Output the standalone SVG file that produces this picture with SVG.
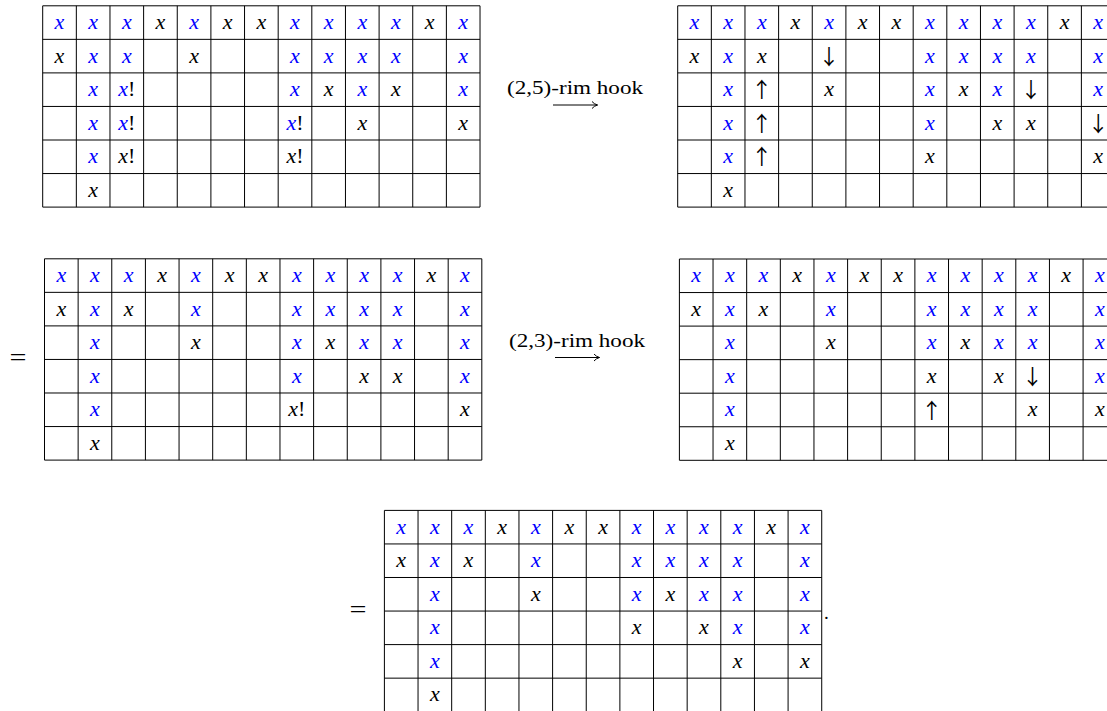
<svg xmlns="http://www.w3.org/2000/svg" xmlns:xlink="http://www.w3.org/1999/xlink" width="1107" height="711" viewBox="0 0 1107 711">
<style>
.grid{fill:none;stroke:#000;stroke-width:1}
text{font-family:"Liberation Serif","Times New Roman",serif}
.m{font-style:italic;font-size:22px;text-anchor:middle}
.b{fill:#0000ff}
.k{fill:#000}
.e{font-style:normal;fill:#000}
.a{font-family:"Noto Sans CJK SC","DejaVu Sans",sans-serif;font-size:21px;text-anchor:middle;fill:#000}
.lbl{font-size:19px;fill:#000}
.eq{font-size:24px;fill:#000;text-anchor:middle}
.conn{fill:none;stroke:#000;stroke-width:1}
</style>
<defs>
<path id="gl" class="grid" d="M0,0H437.32M0,33.55H437.32M0,67.1H437.32M0,100.65H437.32M0,134.2H437.32M0,167.75H437.32M0,201.3H437.32M0,0V201.3M33.64,0V201.3M67.28,0V201.3M100.92,0V201.3M134.56,0V201.3M168.2,0V201.3M201.84,0V201.3M235.48,0V201.3M269.12,0V201.3M302.76,0V201.3M336.4,0V201.3M370.04,0V201.3M403.68,0V201.3M437.32,0V201.3"/>
<g id="row0">
<text class="m b" x="16.82" y="23.2">x</text><text class="m b" x="50.46" y="23.2">x</text><text class="m b" x="84.1" y="23.2">x</text><text class="m k" x="117.74" y="23.2">x</text><text class="m b" x="151.38" y="23.2">x</text><text class="m k" x="185.02" y="23.2">x</text><text class="m k" x="218.66" y="23.2">x</text><text class="m b" x="252.3" y="23.2">x</text><text class="m b" x="285.94" y="23.2">x</text><text class="m b" x="319.58" y="23.2">x</text><text class="m b" x="353.22" y="23.2">x</text><text class="m k" x="386.86" y="23.2">x</text><text class="m b" x="420.5" y="23.2">x</text>
</g>
<marker id="ah" markerWidth="10" markerHeight="10" refX="7" refY="4" orient="auto" markerUnits="userSpaceOnUse">
<path d="M1.5,0.5 Q3.5,3 7,4 Q3.5,5 1.5,7.5" fill="none" stroke="#000" stroke-width="1"/>
</marker>
</defs>

<g id="grid1" transform="translate(42.7,5.8)">
<use xlink:href="#gl"/>
<use xlink:href="#row0"/>
<text class="m k" x="16.82" y="56.75">x</text><text class="m b" x="50.46" y="56.75">x</text><text class="m b" x="84.1" y="56.75">x</text><text class="m k" x="151.38" y="56.75">x</text><text class="m b" x="252.3" y="56.75">x</text><text class="m b" x="285.94" y="56.75">x</text><text class="m b" x="319.58" y="56.75">x</text><text class="m b" x="353.22" y="56.75">x</text><text class="m b" x="420.5" y="56.75">x</text>
<text class="m b" x="50.46" y="90.3">x</text><text class="m" x="84.1" y="90.3"><tspan class="b">x</tspan><tspan class="e">!</tspan></text><text class="m b" x="252.3" y="90.3">x</text><text class="m k" x="285.94" y="90.3">x</text><text class="m b" x="319.58" y="90.3">x</text><text class="m k" x="353.22" y="90.3">x</text><text class="m b" x="420.5" y="90.3">x</text>
<text class="m b" x="50.46" y="123.85">x</text><text class="m" x="84.1" y="123.85"><tspan class="b">x</tspan><tspan class="e">!</tspan></text><text class="m" x="252.3" y="123.85"><tspan class="b">x</tspan><tspan class="e">!</tspan></text><text class="m k" x="319.58" y="123.85">x</text><text class="m k" x="420.5" y="123.85">x</text>
<text class="m b" x="50.46" y="157.4">x</text><text class="m" x="84.1" y="157.4"><tspan class="k">x</tspan><tspan class="e">!</tspan></text><text class="m" x="252.3" y="157.4"><tspan class="k">x</tspan><tspan class="e">!</tspan></text>
<text class="m k" x="50.46" y="190.95">x</text>
</g>

<g id="grid2" transform="translate(677.7,5.8)">
<use xlink:href="#gl"/>
<use xlink:href="#row0"/>
<text class="m k" x="16.82" y="56.75">x</text><text class="m b" x="50.46" y="56.75">x</text><text class="m k" x="84.1" y="56.75">x</text><text class="a" x="151.38" y="58">↓</text><text class="m b" x="252.3" y="56.75">x</text><text class="m b" x="285.94" y="56.75">x</text><text class="m b" x="319.58" y="56.75">x</text><text class="m b" x="353.22" y="56.75">x</text><text class="m b" x="420.5" y="56.75">x</text>
<text class="m b" x="50.46" y="90.3">x</text><text class="a" x="84.1" y="91.5">↑</text><text class="m k" x="151.38" y="90.3">x</text><text class="m b" x="252.3" y="90.3">x</text><text class="m k" x="285.94" y="90.3">x</text><text class="m b" x="319.58" y="90.3">x</text><text class="a" x="353.22" y="91.5">↓</text><text class="m b" x="420.5" y="90.3">x</text>
<text class="m b" x="50.46" y="123.85">x</text><text class="a" x="84.1" y="125">↑</text><text class="m b" x="252.3" y="123.85">x</text><text class="m k" x="319.58" y="123.85">x</text><text class="m k" x="353.22" y="123.85">x</text><text class="a" x="420.5" y="125">↓</text>
<text class="m b" x="50.46" y="157.4">x</text><text class="a" x="84.1" y="158.6">↑</text><text class="m k" x="252.3" y="157.4">x</text><text class="m k" x="420.5" y="157.4">x</text>
<text class="m k" x="50.46" y="190.95">x</text>
</g>

<g id="grid3" transform="translate(44.5,258.8)">
<use xlink:href="#gl"/>
<use xlink:href="#row0"/>
<text class="m k" x="16.82" y="56.75">x</text><text class="m b" x="50.46" y="56.75">x</text><text class="m k" x="84.1" y="56.75">x</text><text class="m b" x="151.38" y="56.75">x</text><text class="m b" x="252.3" y="56.75">x</text><text class="m b" x="285.94" y="56.75">x</text><text class="m b" x="319.58" y="56.75">x</text><text class="m b" x="353.22" y="56.75">x</text><text class="m b" x="420.5" y="56.75">x</text>
<text class="m b" x="50.46" y="90.3">x</text><text class="m k" x="151.38" y="90.3">x</text><text class="m b" x="252.3" y="90.3">x</text><text class="m k" x="285.94" y="90.3">x</text><text class="m b" x="319.58" y="90.3">x</text><text class="m b" x="353.22" y="90.3">x</text><text class="m b" x="420.5" y="90.3">x</text>
<text class="m b" x="50.46" y="123.85">x</text><text class="m b" x="252.3" y="123.85">x</text><text class="m k" x="319.58" y="123.85">x</text><text class="m k" x="353.22" y="123.85">x</text><text class="m b" x="420.5" y="123.85">x</text>
<text class="m b" x="50.46" y="157.4">x</text><text class="m" x="252.3" y="157.4"><tspan class="k">x</tspan><tspan class="e">!</tspan></text><text class="m k" x="420.5" y="157.4">x</text>
<text class="m k" x="50.46" y="190.95">x</text>
</g>

<g id="grid4" transform="translate(679.4,259)">
<use xlink:href="#gl"/>
<use xlink:href="#row0"/>
<text class="m k" x="16.82" y="56.75">x</text><text class="m b" x="50.46" y="56.75">x</text><text class="m k" x="84.1" y="56.75">x</text><text class="m b" x="151.38" y="56.75">x</text><text class="m b" x="252.3" y="56.75">x</text><text class="m b" x="285.94" y="56.75">x</text><text class="m b" x="319.58" y="56.75">x</text><text class="m b" x="353.22" y="56.75">x</text><text class="m b" x="420.5" y="56.75">x</text>
<text class="m b" x="50.46" y="90.3">x</text><text class="m k" x="151.38" y="90.3">x</text><text class="m b" x="252.3" y="90.3">x</text><text class="m k" x="285.94" y="90.3">x</text><text class="m b" x="319.58" y="90.3">x</text><text class="m b" x="353.22" y="90.3">x</text><text class="m b" x="420.5" y="90.3">x</text>
<text class="m b" x="50.46" y="123.85">x</text><text class="m k" x="252.3" y="123.85">x</text><text class="m k" x="319.58" y="123.85">x</text><text class="a" x="353.22" y="125">↓</text><text class="m b" x="420.5" y="123.85">x</text>
<text class="m b" x="50.46" y="157.4">x</text><text class="a" x="252.3" y="158.6">↑</text><text class="m k" x="353.22" y="157.4">x</text><text class="m k" x="420.5" y="157.4">x</text>
<text class="m k" x="50.46" y="190.95">x</text>
</g>

<g id="grid5" transform="translate(384.4,510.4)">
<use xlink:href="#gl"/>
<use xlink:href="#row0"/>
<text class="m k" x="16.82" y="56.75">x</text><text class="m b" x="50.46" y="56.75">x</text><text class="m k" x="84.1" y="56.75">x</text><text class="m b" x="151.38" y="56.75">x</text><text class="m b" x="252.3" y="56.75">x</text><text class="m b" x="285.94" y="56.75">x</text><text class="m b" x="319.58" y="56.75">x</text><text class="m b" x="353.22" y="56.75">x</text><text class="m b" x="420.5" y="56.75">x</text>
<text class="m b" x="50.46" y="90.3">x</text><text class="m k" x="151.38" y="90.3">x</text><text class="m b" x="252.3" y="90.3">x</text><text class="m k" x="285.94" y="90.3">x</text><text class="m b" x="319.58" y="90.3">x</text><text class="m b" x="353.22" y="90.3">x</text><text class="m b" x="420.5" y="90.3">x</text>
<text class="m b" x="50.46" y="123.85">x</text><text class="m k" x="252.3" y="123.85">x</text><text class="m k" x="319.58" y="123.85">x</text><text class="m b" x="353.22" y="123.85">x</text><text class="m b" x="420.5" y="123.85">x</text>
<text class="m b" x="50.46" y="157.4">x</text><text class="m k" x="353.22" y="157.4">x</text><text class="m k" x="420.5" y="157.4">x</text>
<text class="m k" x="50.46" y="190.95">x</text>
</g>

<g id="labels">
<text class="lbl" x="507" y="94" textLength="136" lengthAdjust="spacingAndGlyphs">(2,5)-rim hook</text>
<text class="lbl" x="509" y="347" textLength="136" lengthAdjust="spacingAndGlyphs">(2,3)-rim hook</text>
<text class="eq" x="18" y="365" textLength="17" lengthAdjust="spacingAndGlyphs">=</text>
<text class="eq" x="358" y="617" textLength="17" lengthAdjust="spacingAndGlyphs">=</text>
<text class="lbl" x="824" y="619">.</text>
</g>

<g id="connectors">
<path class="conn" d="M553,105H597.5" marker-end="url(#ah)"/>
<path class="conn" d="M555,357.5H599.5" marker-end="url(#ah)"/>
</g>
</svg>
